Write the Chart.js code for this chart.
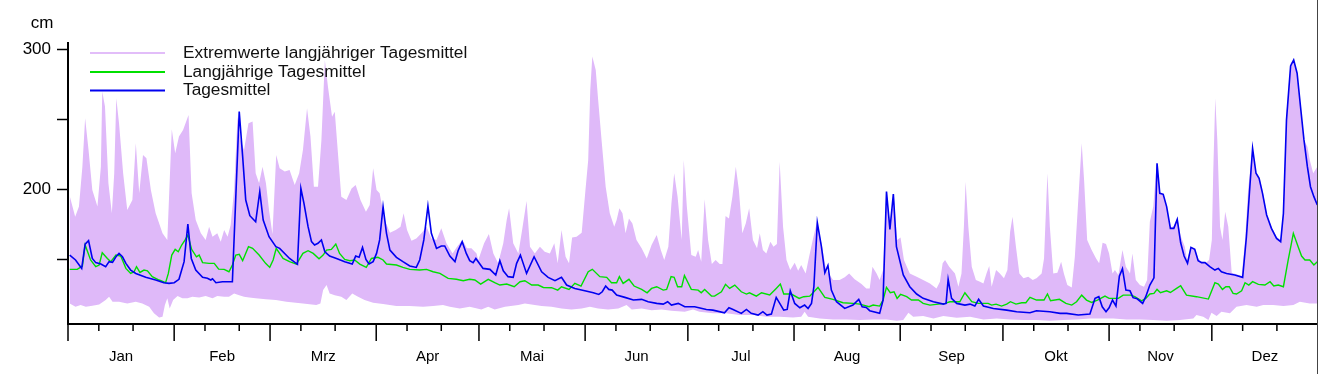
<!DOCTYPE html>
<html>
<head>
<meta charset="utf-8">
<script src="https://cdn.jsdelivr.net/npm/chart.js@4.4.1/dist/chart.umd.min.js"></script>
<style>
  html, body { margin: 0; padding: 0; background: #fff; }
</style>
</head>
<body>
<canvas id="pegel" width="1318" height="374"></canvas>
<script>
// month axis
const months = ['Jan', 'Feb', 'Mrz', 'Apr', 'Mai', 'Jun', 'Jul', 'Aug', 'Sep', 'Okt', 'Nov', 'Dez'];
const monthDays = [31, 28, 31, 30, 31, 30, 31, 31, 30, 31, 30, 31];
const yTicks = [150, 200, 250, 300];
const yLabels = [200, 300];

// Tagesmittel (blue), day of year -> cm
const blueDays = [0.5,2.2,4,5,6,7.1,8.1,9.6,11,12,13,14,14.9,15.9,16.9,18.3,19.8,22.7,25.6,28,29.5,31,32.4,33.9,35,36,37.3,39.3,40.7,41.7,42.2,43.2,45.1,47,48,50,51,51.9,53.1,54.8,56,57,58.7,60.7,61.8,64.7,67,68,68.9,70.1,71.1,72,73,74,75,76.4,78.4,80.8,83,84,85,86,87,87.9,89.1,90.1,91,92,93,94,95.9,97.8,99.8,101.7,102.7,103.9,105.1,106.1,107.6,109,110,111.5,113,113.9,115.1,116.3,117.3,118.3,119.1,121.2,123.2,124.9,126.1,127.1,128.5,130,131,132.1,133.9,136.1,138.3,140.2,142.2,144.1,145.6,148,150.9,153.4,155,156,157,157.9,158.9,160.2,162.6,165.1,167.5,169.4,171.9,173.8,175.1,176.2,178.2,180.1,183,186.4,188.3,191.7,193,194.2,196.6,198.1,199.5,201.5,202.9,204.1,205.4,206.8,209,210,210.9,212.2,213.7,215.1,216.1,217.1,217.8,218.8,220,221,221.9,222.9,224.4,226.8,229.2,230.9,231.9,233.1,234.1,237,238,239,240,241,241.9,243.9,245.8,247.8,249.7,252.7,255.6,256.4,257,258,259.5,261.9,263.4,264.8,265.9,267.3,270.2,274.1,277,280.9,282.8,286.7,289.7,291.6,295,298.4,299.9,301,302,303.1,304,305,306,307,307.9,308.9,310.1,311,312.2,313.8,314.7,315.9,317.1,318,318.8,319.8,320.8,321.9,322.9,323.9,324.9,325.9,326.9,327.9,329,330,331,332,333.4,334.9,335.9,336.8,338.3,340.7,343,344.1,345.1,345.9,346.9,347.8,348.8,350,351.4,352.9,354.1,354.9,355.8,357,357.9,358.9,359.9,360.9,361.9,362.8,363.8,364.8];
const blueVals = [153.2,149.7,143.7,161,163.5,150.8,147.8,146.8,144.9,148.5,148,152,154.4,152,147.3,142.5,140.1,137.3,135.4,133.5,133,133.5,135.9,148.5,175.4,150.8,142.5,137.3,136.6,135.4,136.3,133.5,134.2,134.2,134.2,255.6,223.5,192.5,181.3,177,198.5,178.2,166.3,159.2,158,150.8,146.6,200.8,190.1,173.5,162.8,160.4,161.6,164,155.6,152.5,150.8,148.5,146.8,152.5,151.6,158.7,150.1,146.8,148.5,154.4,164,187.8,168.7,156.8,151.6,148.5,145.4,144.4,149.7,164,188.2,168.7,158,159.7,159.7,152.5,148.5,156.3,162.8,154.4,149.2,147.8,150.8,143.7,143,139,149.2,142,137.8,137.3,147.3,153.2,140.1,152,141.3,137.3,134.9,137.3,131.8,129.4,127.7,126.3,125.1,127,131.1,128.7,128.2,124.6,123,121.1,121.6,119.9,118.7,118.2,119.9,117.5,118.7,116.3,116.3,114.4,113.9,112,115.6,114.4,111.6,114.4,111.6,110.4,112.8,110.4,111.1,123,113.9,114.4,127.7,118.7,115.6,117.5,115.1,118.7,130.6,176.3,159.2,140.6,145.8,128.2,119.9,115.1,117.5,121.6,116.3,115.8,113.5,111.6,121.1,198.5,171.6,196.8,159.2,139,130.6,125.4,122.3,119.9,118.2,118.7,135.9,122.3,118.7,117.5,118.2,116.8,121.6,116.8,115.1,113.9,112.8,112,113.5,112.8,111.6,111.6,110.4,111.1,122.3,123.5,116.3,112.8,115.6,121.1,116.8,138.2,143.5,128.2,127.7,122.8,122,118.7,123.5,131.8,137,218.7,197.3,196.6,187.8,172.3,172.3,178.7,162,152.5,147.3,158.7,157.3,149.2,147.8,147.8,144.9,142.5,143.7,141.3,140.1,139,137.3,166.3,202,229.4,211.6,208,197.3,181.8,172.3,165.1,162.8,183,249.7,288.2,292.5,283,259,235.4,216.3,202,194.9,189];

// Langjährige Tagesmittel (green)
const meanDays = [0.5,2.7,4.2,5,6.6,8.1,9.1,10,11.5,12.5,14,15.4,16.9,18.3,19.3,20,21,22.2,23.2,24.6,26.6,28.5,29.3,30.3,31.3,32.2,33.2,34.2,35,36.1,37.5,38.3,39.3,41.2,42.7,44,45.6,47,48,49,50,51,52.7,53.9,55.8,57.7,58.9,59.9,60.8,62.8,64.7,66.7,68.6,70.1,71.6,73.3,74.5,75.5,76.9,78.2,79.3,80.8,82.3,83.7,85.2,87.1,88.6,90.5,92,93,95.9,97.8,99.8,102.7,104.7,106.6,108.6,111,113.4,115.4,117.3,118.8,120.5,122.7,124.6,126.1,128.1,130.3,132,133.4,135.4,137.3,138.8,141.2,143,144.1,146.3,148,149.8,151.9,153.1,155.3,157.3,158.7,160.2,161,162.1,163.8,165.3,167.5,169.1,170.4,171.9,173.8,174.8,176.1,177,178,179.2,180,182,184,184.9,185.9,187.9,188.8,190.8,192,193.2,194.7,196.6,198.1,199,201,202.5,204.9,206.8,208,209,211.2,213.5,214.8,216.6,219,221,223.4,226.3,229.2,231.2,233.9,235.1,237,238,239,240.1,241.2,242.1,243.1,244.9,246.3,248.3,249.7,251.7,254.1,256.1,257.5,260.4,261.9,263.9,265.8,268.7,269.7,271,272.6,274.1,275.2,276.8,278.5,279.7,280.9,282.8,285,286,286.9,289.5,291.4,293.1,294.5,296,297.4,298.9,300.6,302.8,304,306.7,308.1,310.3,311.5,313.5,314.7,315.9,317.1,318,319,320.8,321.9,323.7,324.9,326.6,329.5,333,334.9,335.9,337.1,338.1,339.1,340.2,341.2,342.7,343.7,344.8,345.9,347.6,349.5,351,352.1,353.4,354.9,356.3,357.8,359.2,360.2,361.2,362.6,363.8,364.8];
const meanVals = [143,143,145.4,160.4,149.7,144.9,146.1,154.9,150.8,148.5,153.2,152.5,143.7,140.1,141.3,144.9,140.8,142.5,142,137.8,135.4,133.5,140.1,153.2,157.3,155.6,160.4,164,167.5,157.3,152,153.2,147.8,147.3,147.3,143.2,143,141.3,146.1,153.2,153.7,149.2,159.2,158,153.2,147.3,144.4,149.7,158,150.8,148.5,146.8,154.4,156.3,154.4,150.6,153.2,156.8,157.3,161.1,154.4,150.1,149.2,149.7,146.8,144.4,150.8,151.6,149.7,146.8,146.1,144.4,143,142.5,143,141.3,140.1,136.6,135.9,134.9,135.9,135.4,132.5,135.9,133.5,131.8,132.5,130.6,134.2,134.9,131.8,131.8,130.1,129.9,128.2,130.6,128.7,133,131.1,141.3,143,137.8,137.3,133.5,133.5,137.8,133,135.9,131.1,128.7,126.3,129.4,130.6,128.2,128.7,137.8,137.3,130.6,130.6,138.6,128.7,128.2,126.3,128.7,123.9,123.9,127,132.3,129.4,131.8,127,125.4,126.3,123.9,126.3,124.7,129.4,132.5,125.4,125.4,122.3,123.5,123.9,130.1,123,121.6,119.2,118.7,118.2,116.3,117.5,116.8,121.1,130.1,126.3,127,122.3,125.1,123.5,121.1,121.1,118.7,117.5,118.2,118.7,119.9,119.9,126.3,119.9,118.7,118.7,117.5,118.2,116.8,118.2,119.9,118.2,119.2,119.2,123,121.1,121.1,125.4,120.6,121.6,118.7,117.5,119.9,124.6,121.1,119.4,121.1,123.9,122.3,122.3,124.6,124.6,123.5,120.6,122.3,125.4,125.8,128.7,126.3,127.7,126.5,129.4,131.3,124.6,123.5,121.8,133.5,132.5,128.7,130.6,130.6,125.8,125.4,127.7,133.5,131.8,134.2,132.3,131.8,134.2,131.1,131.8,130.6,149.7,168.7,159.2,152.5,149.7,149.7,146.1,148.5];

// Extremwerte: lower edge
const minDays = [0.5,2.2,3.7,5.2,7.1,9.1,11,12,13,14.9,17.3,19.8,21.7,23.7,25.1,26.6,27.6,28.3,29,29.7,30.7,32,33.4,34.9,36.3,38.3,40.2,42.2,43.6,45.6,47,48.5,50,51.4,52.9,54.8,57.8,60.7,63.8,68.6,72.5,73.7,74.5,75.5,76.4,77.9,79.8,81.3,83,84.7,86.6,89.1,92,95.9,99.8,103.7,106.6,109.5,111.5,114.4,117.3,120.7,122.7,124.6,127.6,131.5,133.4,136.3,138.3,141.2,144.1,147,150,152.4,154.8,157.7,160.7,163.1,164.6,167.5,170.4,173.3,176.2,180.1,182.5,184.4,188.3,192.2,196.1,200,203.9,207.8,211.7,214.1,215.1,216.1,219.5,223.4,227.3,231.2,235.1,239,242,243.9,245.4,246.8,249.7,252.7,255.6,259.5,263.4,267.3,271.2,275.1,279,282.8,286.7,290.6,294.5,298.4,302.8,305.2,309.1,313,316.9,320.8,324.7,328.6,329.5,331.5,333,333.9,335.4,336.8,339.3,341.2,344.1,347.1,349,351.9,354.9,357.8,359.7,362.6,364.8];
const minVals = [118.7,116.3,117.5,116.3,117,118,121.1,123.5,119.9,119.9,118.7,119.9,118.7,116.3,111.6,108.7,109.2,117.5,122.3,115.1,121.1,124,122.3,122.3,123.5,123,124,122.3,124,123.5,123.5,125.8,124.6,123.5,123,122.3,121.6,121.1,119.9,118.7,117.5,118.7,128.2,131.8,125.8,124.6,123.5,121.1,125.8,123.5,121.1,119.2,118.2,116.8,116.8,116.3,116.8,117.5,116.3,115.1,116.3,114.4,116.3,114.4,116.3,117.5,118.7,117.5,116.8,116.3,115.1,114.4,115.1,116.3,115.1,114.4,115.1,117.5,114.4,115.1,113.9,114.4,113.5,112.8,114.4,112.8,111.6,111.6,110.4,110.4,109.2,109.2,108.7,109.2,112.8,109.2,108,107.3,107.3,106.8,107.3,107.3,106.3,106.8,112,109.2,109.7,108,109.7,108.5,109.2,107.3,108,107.3,106.8,106.8,106.3,106.8,107.3,108,108,108,107.3,107.3,106.8,106.3,106.8,108,110.4,109.2,106.8,112,109.7,112.8,111.6,116.3,117.5,116.3,117.5,117.5,116.8,117.5,119.9,118.7,118.7];

// Extremwerte: upper edge
const maxDays = [0.5,2.1,3.2,4.2,5,6,7.1,8.6,9.6,10,10.8,11.8,12.8,13.5,14.1,14.9,16.1,17.3,18.8,19.8,20.8,21.9,22.9,24.2,25.6,27.6,29,30.3,31.3,32.4,33.6,35.2,36.1,37.3,38.8,40.2,41.2,42.2,43.6,44.6,45.6,46.6,47.5,48.5,49.5,50.4,51.4,52.7,53.9,54.8,55.8,56.8,57.8,58.7,59.7,60.8,61.8,63.3,64.7,66.2,67.5,68.6,69.8,70.8,71.8,73,74,75,75.9,77.1,77.9,78.9,79.8,81.3,82.8,84,85.4,87,88.1,89.1,90.1,91,92.5,94,95.7,97.1,98,99,100.3,101.7,103.2,104.7,106.1,107.6,109,110.5,112.3,113.6,115.2,116.5,117.8,119.3,119.8,121.5,122.9,124.2,125.6,127.1,128.1,128.8,130,131.5,132.6,133.9,134.9,136.3,137.8,139.2,140.7,142,143,144.1,145.3,146.3,147.2,148.5,150,151.1,151.9,152.5,153.1,154.1,154.8,155.8,157,158.2,159.5,160.2,161,161.9,162.8,163.8,164.8,166,167.5,169,170.4,171.9,173.1,174.1,175.3,176.2,177,178,179.2,179.8,180.7,182,183.3,184,184.9,185.9,186.9,188,189.1,190.3,191.1,192,193,194,195,195.9,196.9,197.9,198.9,200,201.2,202,202.9,203.9,205.1,206,207,207.8,208.8,209.8,210.9,212.2,213.2,214.1,215.4,216.4,217.5,218.7,220,221.4,223.4,225.3,226.8,228.1,229.7,231.7,233.1,234.1,234.9,236.1,237,238,239,240.1,241.1,242.1,243.1,244.1,245.8,247.8,249.7,251.7,253.6,254.6,255.4,256.1,257.3,259,260,260.9,261.6,262.1,262.9,263.9,265.1,266.3,267.3,268.2,269,269.7,271,272.1,273.3,274.3,275.1,275.8,276.8,277.8,279,280.4,281.7,282.8,284.3,285,285.6,286,286.7,287.7,288.9,290,290.8,291.8,293.1,294,295,296,296.7,297.6,298.9,300.2,301.1,302.1,303.1,304,305,305.7,306.7,307.9,308.9,310.1,310.8,311.8,313,314.2,315.1,315.9,316.9,317.9,318.8,319.8,320.8,321.9,322.9,323.9,324.9,326.1,326.8,327.8,329.1,330,331,332.3,333.2,334,334.4,335,335.6,336.4,337.1,337.9,338.8,339.8,341.2,342.7,343.7,344.6,345.9,346.9,347.8,348.8,350,351.4,352.9,354.1,354.9,355.8,357,357.9,358.9,359.9,360.9,361.9,362.6,363.6,364.8];
const maxVals = [195.4,180.6,187.8,216.3,250.8,228.2,199.7,187.8,216.3,269.9,259.2,204.4,183,211.6,265.1,247.3,211.6,185.4,192.5,233,197.3,224.7,222.3,199.7,183,168.7,164,243,225.9,237.8,242.5,253.2,197.3,178.2,168.7,164,173.5,166.3,168.7,162.8,171.1,166.3,174.7,199.7,252,235.4,228.2,247.3,248.5,211.6,204.4,216.3,204.4,185.4,168,224.7,215.1,212.8,214,203.2,211.6,228.2,258,237.8,202,202,235.4,292.5,273.5,252,255.6,223.5,194.9,192.5,200.8,203.2,192.5,184.2,188.9,215.1,199.7,197.3,178.2,169.2,171.1,173.5,183,171.1,163.5,165.1,168.7,173.5,165.1,164,172.3,161.6,154.4,159.2,164,158,158,154.4,149.7,161.6,168.2,154.4,147.3,161.6,178.2,186.6,161.6,154.4,171.1,191.8,159.2,154.4,159.2,155.6,154.4,161.6,147.3,171.1,152,147.3,165.8,166.3,169.2,199.7,221.1,271,294.9,285.4,264,235.4,202,183,173.5,178.2,186.6,183,168.7,179.4,175.8,164,158,150.8,160.4,167.5,156.8,149.7,159.2,190.1,211.6,194.9,164,221.1,187.8,153.2,152,156.8,148.5,193,164,146.8,149.7,146.8,146.8,181.1,179.4,194.9,216.3,199.7,168.7,175.8,186.6,164,158,168.7,156.8,154.4,162.8,159.2,161.1,219.9,173.5,149.7,142.5,147.8,142,146.1,140.1,152,164.4,177,161.6,142.5,135.4,135.4,137.3,140.1,135.9,132.5,129.4,129.4,144.9,140.1,135.4,142.5,199,173.5,197.3,164,165.8,149.7,140.1,137.8,135.4,133,129.4,134.2,147.3,149.7,144.9,140.1,130.6,140.1,173.5,205.6,173.5,144.9,135.4,134.2,133,140.1,145.4,130.6,142.5,140.1,136.6,142.5,169.9,180.6,159.2,140.1,136.6,137.8,135.4,136.6,140.1,150.8,187.8,211.6,173.5,140.1,140.6,148.5,140.1,131.8,130.1,152,192.5,233,206.8,164,156.8,150.8,147.3,162,161.1,154.4,140.1,142.5,139,156.8,144.9,140.1,154.4,135.4,131.8,130.6,135.4,177,187.8,219.2,197.8,197.3,188.3,172.8,174,179.9,166.8,159.2,149.7,159.2,158,150.8,148.5,147.8,149.7,164,211.6,265.1,235.4,173.5,164,184.2,173.5,140.6,139.5,138.3,164,200.2,229.9,212.1,209.2,199.7,183,173.5,166.3,164,184.2,254.4,290.1,293,283,259,235.4,230.6,221.1,211.6,216.3];

const FONT = "'Liberation Sans', Arial, Helvetica, sans-serif";
const BLUE = '#0000f0';
const GREEN = '#00e000';
const PURPLE = '#dfb9f9';

const pts = (days, vals) => days.map((d, i) => ({ x: d, y: vals[i] }));

// x axis (months), legend and unit are drawn on top of the chart
const decorations = {
  id: 'decorations',
  afterDraw(chart) {
    const { ctx, chartArea: a } = chart;
    const xs = chart.scales.x;
    ctx.save();
    ctx.strokeStyle = '#000';
    ctx.lineWidth = 2;
    ctx.beginPath();
    ctx.moveTo(a.left - 1, a.bottom);
    ctx.lineTo(a.right, a.bottom);
    ctx.stroke();

    ctx.lineWidth = 1.5;
    let start = 0;
    ctx.font = '15px ' + FONT;
    ctx.fillStyle = '#000';
    ctx.textAlign = 'center';
    ctx.textBaseline = 'middle';
    months.forEach((m, i) => {
      const x0 = xs.getPixelForValue(start);
      ctx.beginPath();
      ctx.moveTo(x0, a.bottom);
      ctx.lineTo(x0, a.bottom + 17);
      [9, 19].forEach(off => {
        const xm = xs.getPixelForValue(start + off);
        ctx.moveTo(xm, a.bottom);
        ctx.lineTo(xm, a.bottom + 7);
      });
      ctx.stroke();
      ctx.fillText(m, xs.getPixelForValue(start + monthDays[i] / 2), 357);
      start += monthDays[i];
    });

    // right border
    ctx.strokeStyle = '#444';
    ctx.lineWidth = 1;
    ctx.beginPath();
    ctx.moveTo(1317.5, 0);
    ctx.lineTo(1317.5, 374);
    ctx.stroke();

    // unit
    ctx.font = '17px ' + FONT;
    ctx.fillStyle = '#000';
    ctx.textAlign = 'center';
    ctx.fillText('cm', 42, 23);

    // legend
    const items = [
      ['Extremwerte langjähriger Tagesmittel', '#e2bdf9', 53],
      ['Langjährige Tagesmittel', GREEN, 72],
      ['Tagesmittel', BLUE, 90.5]
    ];
    ctx.textAlign = 'left';
    ctx.font = '17.3px ' + FONT;
    items.forEach(([label, color, y]) => {
      ctx.strokeStyle = color;
      ctx.lineWidth = 2;
      ctx.beginPath();
      ctx.moveTo(90, y);
      ctx.lineTo(165, y);
      ctx.stroke();
      ctx.fillStyle = '#111';
      ctx.fillText(label, 183, y);
    });
    ctx.restore();
  }
};

new Chart(document.getElementById('pegel'), {
  type: 'line',
  data: {
    datasets: [
      { label: 'Tagesmittel', data: pts(blueDays, blueVals), borderColor: BLUE, borderWidth: 1.6, order: 0 },
      { label: 'Langjährige Tagesmittel', data: pts(meanDays, meanVals), borderColor: GREEN, borderWidth: 1.4, order: 1 },
      { label: 'Extremwerte langjähriger Tagesmittel', data: pts(maxDays, maxVals), borderWidth: 0,
        borderColor: 'rgba(0,0,0,0)', backgroundColor: PURPLE, fill: 3, order: 2 },
      { label: 'min', data: pts(minDays, minVals), borderWidth: 0, borderColor: 'rgba(0,0,0,0)', fill: false, order: 3 }
    ]
  },
  options: {
    responsive: false,
    animation: false,
    parsing: false,
    elements: { point: { radius: 0 }, line: { tension: 0 } },
    layout: { padding: { top: 43, bottom: 50, left: 0, right: 0 } },
    plugins: { legend: { display: false }, tooltip: { enabled: false } },
    scales: {
      x: { type: 'linear', min: 0, max: 365, display: false },
      y: {
        min: 104,
        max: 304.6,
        afterBuildTicks: s => { s.ticks = yTicks.map(v => ({ value: v })); },
        afterFit: s => { s.width = 68; },
        ticks: {
          callback: v => (yLabels.includes(v) ? String(v) : ''),
          font: { family: FONT, size: 17 },
          color: '#000',
          padding: 6
        },
        grid: { drawOnChartArea: false, tickLength: 11, tickColor: '#000', tickWidth: 1.5 },
        border: { color: '#000', width: 2 }
      }
    }
  },
  plugins: [decorations]
});
</script>
</body>
</html>
